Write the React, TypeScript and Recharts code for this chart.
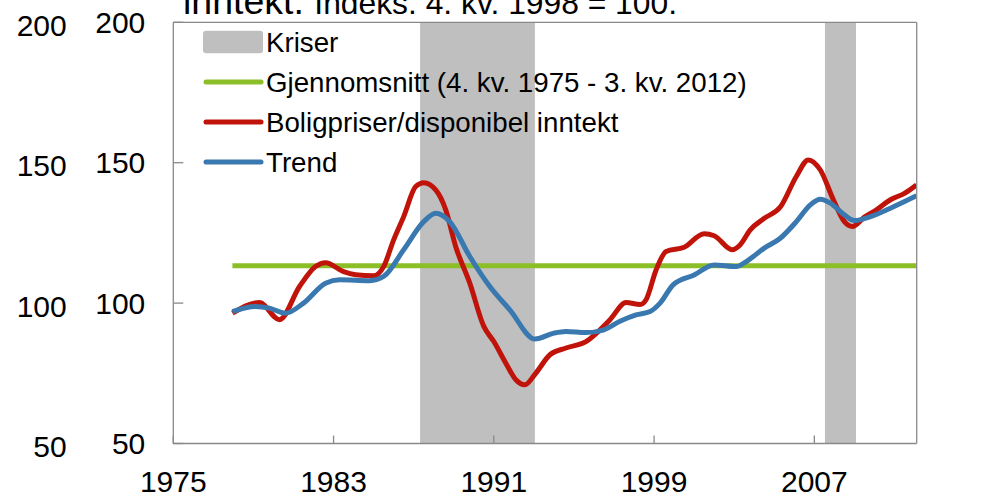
import { LineChart, Line, XAxis, YAxis, ReferenceArea, ReferenceLine } from 'recharts'

const FONT = '"Liberation Sans", Arial, sans-serif'
const AXIS = '#898989'
const RED = '#C0140A'
const BLUE = '#3A78B0'
const GREEN = '#8CBE28'
const BAND = '#BFBFBF'

// axis ticks
const xTicks = [1975, 1983, 1991, 1999, 2007]
const yTicks = [50, 100, 150, 200]

// crisis periods (Kriser)
const crisisStart = [1987.32, 2007.53]
const crisisEnd = [1993.05, 2009.08]

// average 4. kv. 1975 - 3. kv. 2012
const averageSpan = [1977.95, 2012.1]
const averageValue = 113.3

// Boligpriser/disponibel inntekt
const priceYears = [
  1977.95, 1979.3, 1980.3, 1981.3, 1982.1, 1982.6, 1983.5, 1984.1, 1985.0, 1985.5,
  1986.0, 1986.5, 1987.1, 1987.5, 1988.1, 1988.6, 1989.1, 1989.8, 1990.5, 1991.0,
  1991.6, 1992.1, 1992.55, 1993.1, 1993.8, 1994.6, 1995.6, 1996.8, 1997.6, 1998.3,
  1998.6, 1999.1, 1999.6, 2000.5, 2001.5, 2002.0, 2002.9, 2003.3, 2003.8, 2004.5,
  2005.3, 2006.1, 2006.7, 2007.3, 2007.95, 2008.5, 2008.9, 2009.5, 2010.1, 2010.8,
  2011.5, 2012.1,
]
const priceValues = [
  96.4, 100.2, 94.1, 105.9, 113, 114.4, 111.2, 110.1, 109.7, 113,
  122.5, 130.8, 141.5, 142.9, 140.3, 133.2, 120.1, 107.1, 91.7, 86.3,
  78.6, 72.7, 70.9, 75.1, 81.6, 84.0, 86.3, 94.1, 100.2, 99.5,
  101.2, 111.8, 118.4, 119.9, 124.7, 124, 119, 120.8, 126.1, 130.2,
  134.2, 145.1, 151, 147.4, 136.8, 129, 127.3, 130.6, 133.2, 136.8,
  139.1, 142.1,
]

// Trend
const trendYears = [
  1977.95, 1979.1, 1979.8, 1980.6, 1981.5, 1982.6, 1983.3, 1984.8, 1985.5, 1986.5,
  1987.5, 1988.1, 1988.8, 1989.8, 1990.8, 1991.8, 1993.05, 1994.0, 1994.6, 1995.6,
  1996.5, 1997.3, 1998.1, 1998.8, 1999.3, 1999.95, 2001.0, 2002.0, 2003.1, 2003.6,
  2004.5, 2005.3, 2006.1, 2006.8, 2007.3, 2007.8, 2008.5, 2009.0, 2009.8, 2010.8,
  2012.1,
]
const trendValues = [
  97, 98.8, 98.2, 96.4, 100, 107.1, 108.3, 108.0, 109.5, 119,
  129, 132, 129, 116.6, 105.9, 97.6, 87.2, 89.3, 89.9, 89.5,
  90.5, 93.5, 95.8, 97, 100, 106.5, 110, 113.6, 113, 114.8,
  119.6, 123.1, 129, 135, 137, 135.6, 131.4, 129.4, 130.8, 133.8,
  138.2,
]

const priceData = priceYears.map((x, i) => ({ x, v: priceValues[i] }))
const trendData = trendYears.map((x, i) => ({ x, v: trendValues[i] }))
const averageData = averageSpan.map(x => ({ x, v: averageValue }))

const legendItems = [
  { label: 'Kriser', kind: 'band', color: BAND },
  { label: 'Gjennomsnitt (4. kv. 1975 - 3. kv. 2012)', kind: 'line', color: GREEN },
  { label: 'Boligpriser/disponibel inntekt', kind: 'line', color: RED },
  { label: 'Trend', kind: 'line', color: BLUE },
]

const tickText = { fontSize: 30, fill: '#000', fontFamily: FONT }

// left axis draws two label columns, like the original
function LeftTick(props: any) {
  const { x, y, payload } = props
  return (
    <g>
      <text x={x} y={y} dy={10.7} textAnchor="end" {...tickText}>
        {payload.value}
      </text>
      <text x={x - 78.6} y={y + 3} dy={10.7} textAnchor="end" {...tickText}>
        {payload.value}
      </text>
    </g>
  )
}

export default function App() {
  return (
    <div style={{ position: 'absolute', left: 0, top: 0, width: 1000, height: 496, background: '#fff' }}>
      <LineChart
        width={1000}
        height={496}
        margin={{ top: 22.3, right: 0, bottom: 0, left: 0 }}
      >
        <XAxis
          dataKey="x"
          type="number"
          domain={[1975, 2012.11]}
          allowDataOverflow
          ticks={xTicks}
          height={52.5}
          stroke={AXIS}
          strokeWidth={1.3}
          tickSize={-8}
          tickMargin={35.2}
          tick={tickText}
        />
        <YAxis
          yAxisId="left"
          domain={[50, 200]}
          ticks={yTicks}
          width={173.3}
          stroke={AXIS}
          strokeWidth={1.3}
          tickSize={-10}
          tickMargin={38}
          tick={<LeftTick />}
        />
        <YAxis
          yAxisId="right"
          orientation="right"
          domain={[50, 200]}
          ticks={yTicks}
          width={83.3}
          stroke={AXIS}
          strokeWidth={1.3}
          tickSize={-10}
          tickMargin={38.3}
          tick={tickText}
        />
        {crisisStart.map((s, i) => (
          <ReferenceArea
            key={i}
            yAxisId="left"
            x1={s}
            x2={crisisEnd[i]}
            y1={50}
            y2={200}
            fill={BAND}
            fillOpacity={1}
            stroke="none"
          />
        ))}
        <ReferenceLine yAxisId="left" y={200} stroke={AXIS} strokeWidth={1.3} />
        <Line
          yAxisId="left"
          data={averageData}
          dataKey="v"
          type="linear"
          stroke={GREEN}
          strokeWidth={5}
          dot={false}
          isAnimationActive={false}
        />
        <Line
          yAxisId="left"
          data={priceData}
          dataKey="v"
          type="monotone"
          stroke={RED}
          strokeWidth={5}
          dot={false}
          isAnimationActive={false}
        />
        <Line
          yAxisId="left"
          data={trendData}
          dataKey="v"
          type="monotone"
          stroke={BLUE}
          strokeWidth={5}
          dot={false}
          isAnimationActive={false}
        />
      </LineChart>

      {/* title (cut off at the top) and legend */}
      <svg
        width={1000}
        height={496}
        style={{ position: 'absolute', left: 0, top: 0, pointerEvents: 'none' }}
      >
        <text x={183} y={13.5} fontFamily={FONT} fontSize={37.5} fill="#000">
          inntekt.{' '}
          <tspan fontSize={31.8}>Indeks. 4. kv. 1998 = 100.</tspan>
        </text>
        {legendItems.map((item, i) => {
          const cy = 42 + i * 40
          return (
            <g key={item.label}>
              {item.kind === 'band' ? (
                <rect x={203} y={cy - 11.3} width={60} height={22.6} rx={3} fill={item.color} />
              ) : (
                <line
                  x1={206}
                  x2={261}
                  y1={cy}
                  y2={cy}
                  stroke={item.color}
                  strokeWidth={5}
                  strokeLinecap="round"
                />
              )}
              <text x={266} y={cy + 9.7} fontFamily={FONT} fontSize={27.7} fill="#000">
                {item.label}
              </text>
            </g>
          )
        })}
      </svg>
    </div>
  )
}
